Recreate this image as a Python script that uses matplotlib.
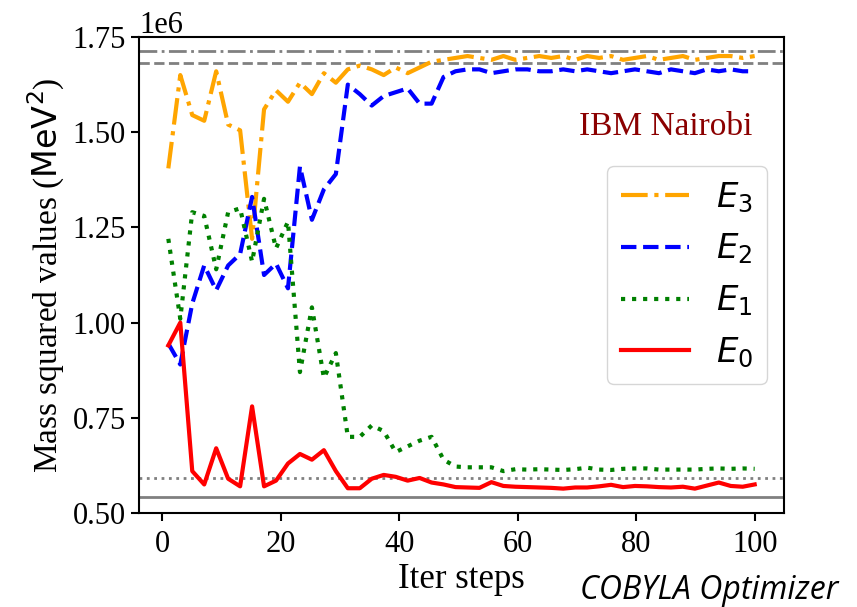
import numpy as np
import matplotlib
matplotlib.use("Agg")
import matplotlib.pyplot as plt

plt.rcParams['font.family'] = ['Liberation Serif', 'DejaVu Serif']
plt.rcParams['mathtext.fontset'] = 'dejavusans'

# Iteration axis (one recorded energy every other step)
steps = np.linspace(1, 100, 50)

# Mass squared estimates per iteration, in units of 1e6 MeV^2
e0 = [0.94, 1.00, 0.61, 0.575, 0.67, 0.59, 0.57, 0.78, 0.57, 0.585,
      0.63, 0.655, 0.64, 0.665, 0.61, 0.565, 0.565, 0.59, 0.60, 0.595,
      0.585, 0.592, 0.58, 0.575, 0.568, 0.567, 0.566, 0.581, 0.571, 0.569,
      0.568, 0.567, 0.566, 0.564, 0.567, 0.567, 0.570, 0.574, 0.568, 0.571,
      0.570, 0.568, 0.567, 0.569, 0.564, 0.572, 0.580, 0.571, 0.569, 0.575]
e1 = [1.22, 1.01, 1.29, 1.28, 1.14, 1.29, 1.30, 1.16, 1.325, 1.195,
      1.265, 0.87, 1.04, 0.855, 0.92, 0.70, 0.70, 0.73, 0.715, 0.66,
      0.675, 0.69, 0.70, 0.64, 0.622, 0.620, 0.620, 0.620, 0.610, 0.615,
      0.614, 0.615, 0.614, 0.613, 0.615, 0.619, 0.614, 0.613, 0.616, 0.617,
      0.617, 0.614, 0.614, 0.614, 0.614, 0.616, 0.617, 0.616, 0.617, 0.616]
e2 = [0.945, 0.89, 1.05, 1.15, 1.085, 1.15, 1.18, 1.33, 1.125, 1.155,
      1.09, 1.41, 1.27, 1.35, 1.39, 1.625, 1.60, 1.57, 1.595, 1.605,
      1.615, 1.575, 1.575, 1.645, 1.66, 1.665, 1.665, 1.655, 1.66, 1.665,
      1.665, 1.66, 1.66, 1.665, 1.66, 1.665, 1.66, 1.655, 1.66, 1.665,
      1.66, 1.655, 1.665, 1.66, 1.655, 1.665, 1.66, 1.665, 1.66, 1.66]
e3 = [1.405, 1.65, 1.545, 1.53, 1.66, 1.52, 1.505, 1.22, 1.56, 1.61,
      1.58, 1.63, 1.60, 1.655, 1.63, 1.665, 1.675, 1.665, 1.65, 1.67,
      1.655, 1.67, 1.685, 1.69, 1.695, 1.70, 1.695, 1.69, 1.70, 1.69,
      1.695, 1.70, 1.695, 1.70, 1.69, 1.70, 1.695, 1.70, 1.69, 1.695,
      1.70, 1.69, 1.695, 1.70, 1.69, 1.695, 1.70, 1.70, 1.695, 1.70]

# Exact eigenvalues (reference lines), same units
exact = [0.542, 0.592, 1.682, 1.713]

scale = 1e6
series = [e3, e2, e1, e0]
labels = [r'$E_3$', r'$E_2$', r'$E_1$', r'$E_0$']
colors = ['orange', 'blue', 'green', 'red']
styles = ['-.', '--', ':', '-']
exact_styles = ['-', ':', '--', '-.']

fig = plt.figure(figsize=(8.57, 6.07), dpi=100)
ax = fig.add_axes([139 / 857, 1 - 513 / 607, (784 - 139) / 857, (513 - 37) / 607])

for val, ls in zip(exact, exact_styles):
    ax.axhline(val * scale, color='gray', lw=2, ls=ls, zorder=1)

for vals, lab, col, ls in zip(series, labels, colors, styles):
    ax.plot(steps, np.array(vals) * scale, color=col, ls=ls, lw=3, label=lab, zorder=2)

ax.set_ylim(0.5e6, 1.75e6)
ax.set_xticks([0, 20, 40, 60, 80, 100])
ax.set_yticks([0.5e6, 0.75e6, 1.0e6, 1.25e6, 1.5e6, 1.75e6])
ax.tick_params(labelsize=22, length=6, width=1.5)
ax.tick_params(axis='x', pad=6)
ax.yaxis.get_offset_text().set_fontsize(22)
for sp in ax.spines.values():
    sp.set_linewidth(1.5)

ax.set_xlabel('Iter steps', fontsize=25, labelpad=3)
ax.set_ylabel(r'Mass squared values ($\mathrm{MeV}^2$)', fontsize=24)

ax.text(0.817, 0.811, 'IBM Nairobi', transform=ax.transAxes, ha='center', va='center',
        fontsize=24, color='darkred')

ax.legend(loc='center right', fontsize=24.5)

fig.text(0.978, 0.028, 'COBYLA Optimizer', ha='right', va='center', fontsize=23,
         family='Open Sans', style='italic')

fig.savefig('out.png', dpi=100)
